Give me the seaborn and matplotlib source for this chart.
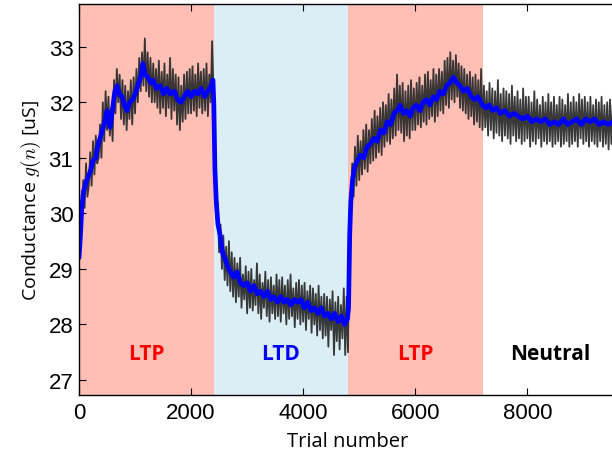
import numpy as np
import pandas as pd
import matplotlib
matplotlib.use('Agg')
import matplotlib.pyplot as plt
import seaborn as sns

# phase boundaries (trial number) and labels
phase_edges = [0, 2400, 4800, 7200, 9600]
phase_names = ['LTP', 'LTD', 'LTP', 'Neutral']
phase_label_x = [1200, 3600, 6000, 8400]
phase_fill = ['#ffbfb5', '#dceef5', '#ffbfb5', '#ffffff']
phase_text = ['#ff0000', '#0000ff', '#ff0000', '#000000']

# raw conductance trace, one value every 25 trials
raw_step = 25
raw_g = [
    # LTP 0-2375
    29.3, 29.9, 29.8, 30.6, 30.1, 30.9, 30.3, 30.5, 31.1, 30.5, 31.3, 30.7, 31.4, 30.9, 31.0, 31.6, 31.0, 32.0, 31.3, 32.2,
    31.5, 32.1, 31.4, 31.9, 31.3, 32.4, 31.8, 32.6, 32.0, 32.5, 31.7, 32.4, 31.6, 32.3, 31.5, 32.2, 31.7, 32.4, 31.6, 32.45,
    31.8, 32.6, 32.0, 32.8, 32.2, 32.9, 32.3, 33.15, 32.2, 32.9, 32.1, 32.8, 32.0, 32.7, 32.0, 32.6, 31.9, 32.75, 31.8, 32.55,
    31.9, 32.7, 31.75, 32.5, 31.9, 32.8, 31.7, 32.6, 31.85, 32.5, 31.6, 32.45, 31.5, 32.3, 31.65, 32.5, 31.7, 32.55, 31.8, 32.6,
    31.8, 32.65, 31.85, 32.5, 31.75, 32.7, 31.9, 32.55, 31.8, 32.6, 31.85, 32.7, 31.75, 32.5, 32.0, 33.1,
    # LTD 2400-4775
    32.2, 30.5, 29.9, 30.2, 29.3, 29.8, 29.0, 29.6, 28.8, 29.4, 28.7, 29.5, 28.6, 29.3, 28.5, 29.2,
    28.4, 29.1, 28.5, 29.2, 28.3, 28.9, 28.45, 29.05, 28.2, 28.95, 28.3, 29.0, 28.25, 28.8, 28.35, 29.1,
    28.2, 28.9, 28.1, 28.75, 28.3, 28.95, 28.15, 28.8, 28.05, 28.85, 28.2, 28.7, 28.1, 28.9, 28.15, 28.8,
    28.05, 28.85, 28.2, 28.7, 28.0, 28.8, 28.1, 28.9, 28.15, 28.65, 27.95, 28.75, 28.1, 28.8, 28.0, 28.7,
    28.05, 28.75, 27.9, 28.6, 28.1, 28.7, 27.85, 28.65, 28.0, 28.55, 27.8, 28.7, 27.9, 28.5, 27.75, 28.55,
    27.8, 28.5, 27.6, 28.45, 27.9, 28.6, 27.45, 28.4, 27.7, 28.5, 27.55, 28.35, 27.75, 28.65, 27.45, 28.5,
    # LTP 4800-7175
    27.5, 29.9, 30.0, 30.9, 30.3, 31.2, 30.5, 31.4, 30.6, 31.3, 30.7, 31.5, 30.8, 31.6, 30.75, 31.5,
    30.9, 31.7, 30.95, 31.85, 31.0, 31.75, 31.1, 31.9, 31.05, 32.0, 31.2, 31.95, 31.3, 32.15, 31.25, 32.05,
    31.35, 32.25, 31.4, 32.5, 31.5, 32.3, 31.45, 32.35, 31.3, 32.2, 31.4, 32.3, 31.35, 32.4, 31.5, 32.25,
    31.5, 32.35, 31.6, 32.45, 31.55, 32.3, 31.65, 32.5, 31.6, 32.55, 31.7, 32.4, 31.75, 32.6, 31.65, 32.5,
    31.75, 32.6, 31.85, 32.55, 31.8, 32.75, 31.95, 32.8, 31.9, 32.9, 32.05, 32.75, 32.0, 32.85, 32.1, 32.7,
    31.9, 32.65, 31.85, 32.6, 31.8, 32.5, 31.7, 32.55, 31.75, 32.45, 31.6, 32.5, 31.65, 32.4, 31.55, 32.6,
    # Neutral 7200-9600
    31.5, 32.3, 31.55, 32.2, 31.4, 32.35, 31.5, 32.25, 31.35, 32.2, 31.45, 32.4, 31.4, 32.15, 31.3, 32.25,
    31.4, 32.2, 31.35, 32.15, 31.25, 32.3, 31.4, 32.1, 31.3, 32.2, 31.35, 32.05, 31.25, 32.25, 31.3, 32.1,
    31.35, 32.1, 31.2, 32.0, 31.3, 32.2, 31.25, 32.05, 31.35, 31.95, 31.2, 32.1, 31.3, 32.0, 31.25, 32.15,
    31.3, 32.0, 31.2, 32.1, 31.25, 31.95, 31.3, 32.1, 31.2, 32.05, 31.25, 31.95, 31.3, 32.15, 31.2, 32.0,
    31.25, 32.1, 31.3, 32.0, 31.2, 32.15, 31.35, 32.05, 31.25, 32.1, 31.3, 32.0, 31.2, 32.1, 31.3, 31.95,
    31.25, 32.05, 31.2, 32.0, 31.3, 32.1, 31.2, 31.95, 31.25, 32.0, 31.15, 32.05, 31.25, 31.95, 31.2, 32.0, 31.25,
]

# smoothed conductance (blue)
smooth_trial = [
    0, 20, 50, 80, 140, 200, 250, 300, 330, 375,
    420, 470, 500, 530, 555, 600, 640, 680, 720, 770,
    810, 860, 900, 960, 1000, 1050, 1100, 1140, 1180, 1230,
    1280, 1320, 1380, 1450, 1510, 1570, 1630, 1700, 1760, 1820,
    1880, 1940, 2000, 2060, 2120, 2180, 2240, 2300, 2360, 2390,
    2405, 2425, 2450, 2480, 2520, 2560, 2600, 2650, 2700, 2760,
    2820, 2880, 2940, 3000, 3060, 3120, 3180, 3240, 3300, 3360,
    3420, 3480, 3540, 3600, 3660, 3720, 3780, 3840, 3900, 3960,
    4020, 4080, 4140, 4200, 4260, 4320, 4380, 4440, 4500, 4560,
    4620, 4680, 4740, 4790, 4810, 4830, 4850, 4880, 4920, 4970,
    5020, 5080, 5140, 5200, 5260, 5320, 5380, 5440, 5500, 5560,
    5620, 5680, 5730, 5790, 5850, 5910, 5960, 6020, 6080, 6140,
    6200, 6260, 6320, 6380, 6440, 6500, 6560, 6620, 6680, 6740,
    6800, 6860, 6930, 7000, 7060, 7120, 7200, 7260, 7320, 7380,
    7450, 7520, 7600, 7680, 7760, 7840, 7920, 8000, 8080, 8160,
    8240, 8320, 8400, 8480, 8560, 8640, 8720, 8800, 8880, 8960,
    9040, 9120, 9200, 9280, 9360, 9440, 9520, 9600,
]
smooth_g = [
    29.2, 29.5, 30.1, 30.4, 30.6, 30.75, 30.95, 31.0, 31.2, 31.35,
    31.5, 31.7, 31.85, 31.7, 31.55, 31.9, 32.2, 32.3, 32.15, 32.1,
    31.95, 31.85, 32.0, 32.05, 32.15, 32.3, 32.45, 32.7, 32.5, 32.45,
    32.35, 32.4, 32.25, 32.3, 32.15, 32.25, 32.15, 32.2, 32.05, 32.0,
    32.1, 32.2, 32.1, 32.2, 32.15, 32.25, 32.1, 32.2, 32.3, 32.4,
    32.0, 30.8, 30.2, 29.8, 29.6, 29.3, 29.2, 29.05, 28.95, 28.85,
    28.95, 28.75, 28.7, 28.75, 28.6, 28.7, 28.55, 28.6, 28.5, 28.6,
    28.45, 28.5, 28.4, 28.5, 28.4, 28.45, 28.35, 28.45, 28.4, 28.45,
    28.3, 28.4, 28.25, 28.3, 28.2, 28.3, 28.15, 28.2, 28.1, 28.2,
    28.05, 28.15, 28.0, 28.1, 28.3, 29.6, 30.2, 30.6, 30.85, 30.95,
    31.05, 31.0, 31.2, 31.25, 31.35, 31.3, 31.5, 31.45, 31.65, 31.6,
    31.8, 31.85, 31.95, 31.8, 31.85, 31.75, 31.9, 31.95, 31.85, 32.0,
    32.05, 31.95, 32.1, 32.05, 32.2, 32.15, 32.3, 32.35, 32.45, 32.35,
    32.3, 32.2, 32.25, 32.1, 32.05, 32.1, 31.95, 31.9, 31.95, 31.85,
    31.9, 31.8, 31.85, 31.75, 31.8, 31.75, 31.7, 31.75, 31.65, 31.7,
    31.65, 31.7, 31.6, 31.65, 31.6, 31.7, 31.6, 31.65, 31.7, 31.6,
    31.7, 31.65, 31.7, 31.6, 31.65, 31.6, 31.65, 31.6,
]

raw = pd.DataFrame({'trial': np.arange(len(raw_g)) * raw_step, 'g': raw_g})
smooth = pd.DataFrame({'trial': smooth_trial, 'g': smooth_g})

sns.set_style('ticks', {'axes.edgecolor': 'black', 'text.color': 'black',
                        'xtick.color': 'black', 'ytick.color': 'black',
                        'axes.labelcolor': 'black'})
plt.rcParams['font.family'] = ['Liberation Sans', 'DejaVu Sans']
plt.rcParams['mathtext.fontset'] = 'cm'

fig = plt.figure(figsize=(6.12, 4.6), dpi=100)
# right spine falls just past the image edge, as in the reference
ax = fig.add_axes([79 / 612, 64 / 460, 538 / 612, 391 / 460])

for i in range(len(phase_names)):
    ax.axvspan(phase_edges[i], phase_edges[i + 1], color=phase_fill[i], lw=0, zorder=0)
    ax.text(phase_label_x[i], 27.47, phase_names[i], color=phase_text[i],
            fontsize=15, fontweight='bold', ha='center', va='center',
            family=['Open Sans', 'DejaVu Sans'])

sns.lineplot(data=raw, x='trial', y='g', ax=ax, color='#2e2e2e', lw=1.3,
             alpha=0.95, estimator=None)
sns.lineplot(data=smooth, x='trial', y='g', ax=ax, color='#0000ff', lw=3.4,
             estimator=None)

ax.set_xlim(0, 9600)
ax.set_ylim(26.73, 33.77)
ax.set_xticks([0, 2000, 4000, 6000, 8000])
ax.set_yticks([27, 28, 29, 30, 31, 32, 33])
ax.tick_params(direction='in', top=True, right=False, length=5, labelsize=16)
ax.tick_params(axis='x', pad=5)
ax.tick_params(axis='y', pad=4)
ax.set_xlabel('Trial number', fontsize=14.5, family=['Open Sans', 'DejaVu Sans'],
              labelpad=6)
ax.set_ylabel('Conductance $g(n)$ [uS]', fontsize=14,
              family=['Open Sans', 'DejaVu Sans'], labelpad=4)
for s in ax.spines.values():
    s.set_linewidth(1.0)

fig.savefig('out.png', dpi=100)
